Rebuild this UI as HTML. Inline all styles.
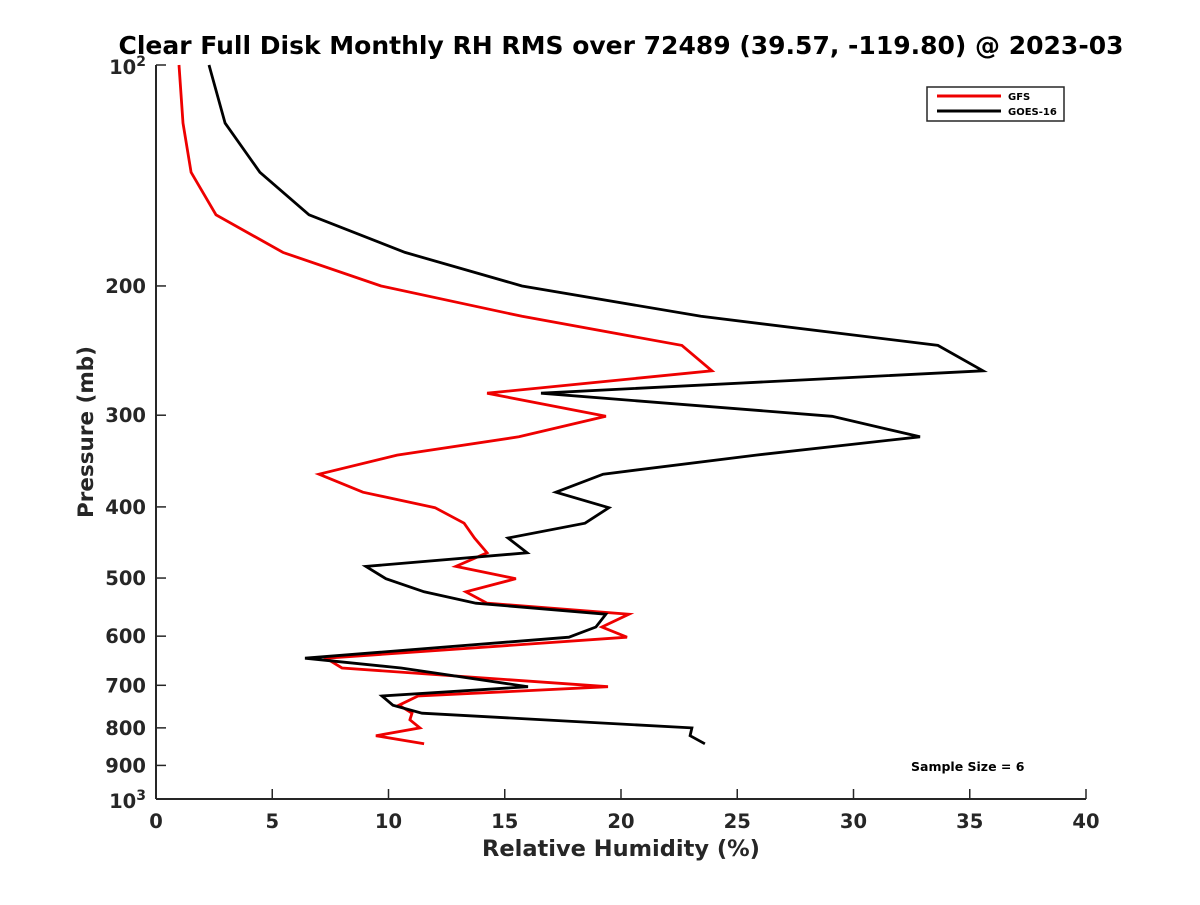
<!DOCTYPE html>
<html><head><meta charset="utf-8"><style>
body{margin:0;background:#fff}
svg text{font-family:"DejaVu Sans","Liberation Sans",sans-serif;font-weight:bold}
</style></head><body>
<svg id="chart" width="1200" height="900" viewBox="0 0 1200 900" xmlns="http://www.w3.org/2000/svg">
<rect width="1200" height="900" fill="#fff"/>
<text x="621" y="54" text-anchor="middle" font-size="25" textLength="1005" lengthAdjust="spacingAndGlyphs" fill="#000">Clear Full Disk Monthly RH RMS over 72489 (39.57, -119.80) @ 2023-03</text>
<g id="axes"></g>
<g id="series"></g>
<text x="621" y="856" text-anchor="middle" font-size="22.5" fill="#262626">Relative Humidity (%)</text>
<text transform="translate(93,432) rotate(-90)" text-anchor="middle" font-size="21.5" fill="#262626">Pressure (mb)</text>
<g>
<rect x="927" y="87" width="137" height="34" fill="#fff" stroke="#262626" stroke-width="1.5"/>
<line x1="937" y1="96" x2="1001" y2="96" stroke="#ee0000" stroke-width="3"/>
<text x="1008" y="100" font-size="10" fill="#000">GFS</text>
<line x1="937" y1="111" x2="1001" y2="111" stroke="#000" stroke-width="3"/>
<text x="1008" y="115" font-size="10" fill="#000">GOES-16</text>
</g>
<text x="911" y="771" font-size="12.5" fill="#000">Sample Size = 6</text>
</svg>
<script>
const gfsPressure = [100,120,140,160,180,200,220,241,261,280,301,321,340,361,382,401,421,441,462,482,501,522,541,560,583,602,643,663,703,724,745,764,780,800,820,841];
const gfsValues = [0.99,1.16,1.51,2.58,5.46,9.68,15.74,22.62,23.91,14.24,19.35,15.61,10.37,7.01,8.90,12.0,13.25,13.7,14.24,12.9,15.48,13.33,14.24,20.34,19.18,20.26,7.31,8.0,19.44,11.27,10.45,11.01,10.92,11.35,9.46,11.53];
const goesPressure = [100,120,140,160,180,200,220,241,261,280,301,321,340,361,382,401,421,441,462,482,501,522,541,560,583,602,643,663,703,724,745,764,800,820,841];
const goesValues = [2.28,2.97,4.47,6.58,10.71,15.74,23.44,33.63,35.57,16.56,29.08,32.86,25.81,19.23,17.2,19.48,18.45,15.14,15.96,9.03,9.89,11.53,13.76,19.35,18.92,17.76,6.41,10.54,16.0,9.72,10.19,11.44,23.05,22.97,23.61];
const xTicks = [0,5,10,15,20,25,30,35,40];
const yTicks = [200,300,400,500,600,700,800,900];

const X0=156,X1=1086,Y0=65,Y1=799;
const xs=v=>X0+(v/40)*(X1-X0);
const ys=p=>Y0+(Math.log10(p)-2)*(Y1-Y0);
const NS='http://www.w3.org/2000/svg';
function mk(tag,attrs,parent){const e=document.createElementNS(NS,tag);for(const k in attrs)e.setAttribute(k,attrs[k]);parent.appendChild(e);return e;}
const ax=document.getElementById('axes');
let l=mk('line',{x1:X0,y1:Y0,x2:X0,y2:Y1,stroke:'#262626','stroke-width':2},ax);


l=mk('line',{x1:X0,y1:Y1,x2:X1,y2:Y1,stroke:'#262626','stroke-width':2},ax);


xTicks.forEach(v=>{
 const t=mk('line',{x1:xs(v),y1:Y1,x2:xs(v),y2:Y1-10,stroke:'#262626','stroke-width':1.5},ax);
 
 
 const tx=mk('text',{x:xs(v),y:Y1+29,'text-anchor':'middle','font-size':19.5,fill:'#262626'},ax);
 tx.textContent=v;
 
 
});
[100].concat(yTicks,[1000]).forEach(p=>{
 const t=mk('line',{x1:X0,y1:ys(p),x2:X0+10,y2:ys(p),stroke:'#262626','stroke-width':1.5},ax);
 
 
});
yTicks.forEach(p=>{
 const tx=mk('text',{x:X0-10,y:ys(p)+7,'text-anchor':'end','font-size':19.5,fill:'#262626'},ax);
 tx.textContent=p;
 
 
});
[[100,'2'],[1000,'3']].forEach(([p,e])=>{
 const tx=mk('text',{x:X0-10,y:ys(p)+9,'text-anchor':'end','font-size':19.5,fill:'#262626'},ax);
 tx.innerHTML='10<tspan dy="-8" font-size="14">'+e+'</tspan>';
 
 
});
const sg=document.getElementById('series');
function draw(pr,vals,color,name){
 const pts=pr.map((p,i)=>xs(vals[i]).toFixed(1)+','+ys(p).toFixed(1)).join(' ');
 const pl=mk('polyline',{points:pts,fill:'none',stroke:color,'stroke-width':2.8,'stroke-linejoin':'miter'},sg);
 
 
}
draw(gfsPressure,gfsValues,'#ee0000','gfs-line');
draw(goesPressure,goesValues,'#000','goes16-line');
</script>
</body></html>
